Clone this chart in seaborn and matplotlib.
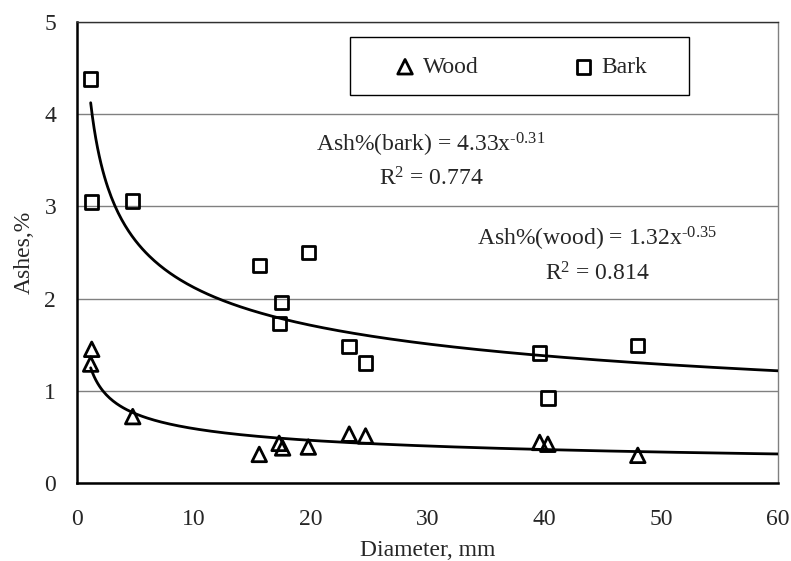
import numpy as np
import pandas as pd
import matplotlib
matplotlib.use("Agg")
import matplotlib.pyplot as plt
from matplotlib.patches import Rectangle
import seaborn as sns

# ---- data ----
wood_d = [1.26, 1.17, 4.77, 15.6, 17.3, 17.6, 19.8, 23.3, 24.7, 39.6, 40.3, 48.0]
wood_ash = [1.45, 1.29, 0.72, 0.31, 0.43, 0.38, 0.39, 0.53, 0.51, 0.44, 0.42, 0.30]
bark_d = [1.17, 1.26, 4.74, 15.64, 19.8, 17.52, 17.32, 23.3, 24.7, 39.6, 47.97, 40.3]
bark_ash = [4.38, 3.05, 3.06, 2.36, 2.50, 1.96, 1.73, 1.48, 1.30, 1.41, 1.49, 0.92]

# power-law trend coefficients as printed on the chart
bark_a, bark_b, bark_r2 = 4.33, -0.31, 0.774
wood_a, wood_b, wood_r2 = 1.32, -0.35, 0.814

x_ticks = [0, 10, 20, 30, 40, 50, 60]
y_ticks = [0, 1, 2, 3, 4, 5]

sns.set_style("white")
plt.rcParams["font.family"] = ["Liberation Serif", "DejaVu Serif"]
plt.rcParams["mathtext.fontset"] = "custom"
plt.rcParams["mathtext.rm"] = "Liberation Serif"
plt.rcParams["mathtext.it"] = "Liberation Serif:italic"
plt.rcParams["mathtext.bf"] = "Liberation Serif:bold"

FS = 17
HY = "\u2010"  # plain hyphen for exponents

fig = plt.figure(figsize=(7.91, 5.61), dpi=100)
ax = fig.add_axes([77 / 791, 1 - 483 / 561, 701 / 791, 461 / 561])

wood_df = pd.DataFrame({"Diameter": wood_d, "Ash": wood_ash})
bark_df = pd.DataFrame({"Diameter": bark_d, "Ash": bark_ash})

xb = np.linspace(min(bark_d), 60, 400)
xw = np.linspace(min(wood_d), 60, 400)
bark_fit = pd.DataFrame({"Diameter": xb, "Ash": bark_a * xb ** bark_b})
wood_fit = pd.DataFrame({"Diameter": xw, "Ash": wood_a * xw ** wood_b})

sns.lineplot(data=bark_fit, x="Diameter", y="Ash", color="black", lw=2.0, ax=ax, zorder=3)
sns.lineplot(data=wood_fit, x="Diameter", y="Ash", color="black", lw=2.0, ax=ax, zorder=3)

sns.scatterplot(data=wood_df, x="Diameter", y="Ash", marker="^", s=110,
                facecolor="none", edgecolor="black", linewidth=2.0,
                label="Wood", ax=ax, zorder=4)
sns.scatterplot(data=bark_df, x="Diameter", y="Ash", marker="s", s=95,
                facecolor="none", edgecolor="black", linewidth=2.0,
                label="Bark", ax=ax, zorder=4)

ax.set_xlim(0, 60)
ax.set_ylim(0, 5)
ax.set_xticks(x_ticks)
ax.set_yticks(y_ticks)
ax.set_xticklabels([str(v) for v in x_ticks], fontsize=FS)
ax.set_yticklabels([str(v) for v in y_ticks], fontsize=FS)
ax.tick_params(axis="x", direction="out", length=6, width=1, color="#404040", pad=13)
ax.tick_params(axis="y", direction="out", length=6, width=1, color="#808080", pad=9)
ax.set_xlabel("Diameter, mm", fontsize=FS, labelpad=7)
ax.set_ylabel("Ashes,%", fontsize=FS, labelpad=7)

ax.grid(axis="y", color="#808080", lw=1)
ax.grid(axis="x", visible=False)
ax.set_axisbelow(True)

for side in ["left", "bottom"]:
    ax.spines[side].set_color("black")
    ax.spines[side].set_linewidth(1.8)
ax.spines["top"].set_color("#303030")
ax.spines["top"].set_linewidth(1.0)
ax.spines["right"].set_color("#808080")
ax.spines["right"].set_linewidth(1.0)
for side in ["top", "right"]:
    ax.spines[side].set_visible(True)

def exp_str(v):
    return f"{v}".replace("-", HY)

# equations
ax.text(30.3, 3.60, r"Ash%(bark) = 4.33x$^{\mathrm{" + exp_str(bark_b) + r"}}$",
        ha="center", va="baseline", fontsize=FS)
ax.text(30.3, 3.23, r"R$^{\mathrm{2}}$ = " + f"{bark_r2}",
        ha="center", va="baseline", fontsize=FS)
ax.text(44.5, 2.58, r"Ash%(wood) = 1.32x$^{\mathrm{" + exp_str(wood_b) + r"}}$",
        ha="center", va="baseline", fontsize=FS)
ax.text(44.5, 2.20, r"R$^{\mathrm{2}}$ = " + f"{wood_r2}",
        ha="center", va="baseline", fontsize=FS)

# legend with rectangular frame
frame = Rectangle((0.389, 0.842), 0.484, 0.125, transform=ax.transAxes,
                  facecolor="white", edgecolor="black", lw=1.0, zorder=5)
ax.add_patch(frame)
leg = ax.legend(loc="center", bbox_to_anchor=(0.633, 0.902), ncol=2,
                frameon=False, fontsize=FS, handlelength=0.9,
                handletextpad=0.3, columnspacing=4.0, borderpad=0.2,
                scatterpoints=1, markerscale=1.0)
leg.set_zorder(6)

fig.savefig("out.png", dpi=100)
